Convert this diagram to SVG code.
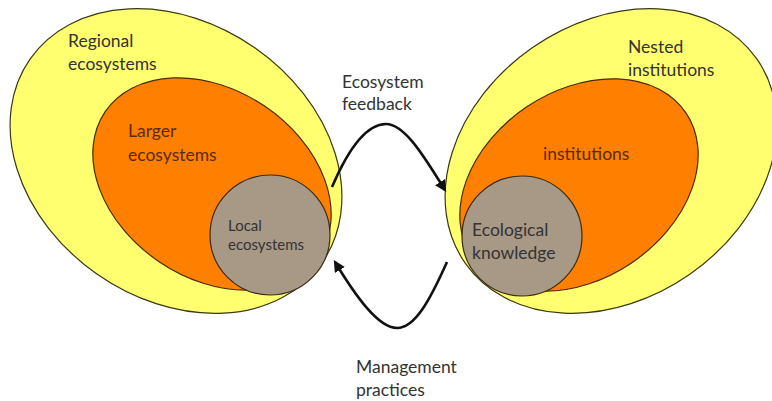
<svg xmlns="http://www.w3.org/2000/svg" width="772" height="401" viewBox="0 0 772 401">
<style>
.yel{fill:#ffff70;stroke:#3a3a10;stroke-width:1.2}
.org{fill:#ff8000;stroke:#4a2a05;stroke-width:1.2}
.brn{fill:#a89886;stroke:#3a2a15;stroke-width:1.2}
.t{font-family:Lato,"Open Sans",sans-serif;font-size:17.5px;fill:#333}
.to{fill:#5a2a05}
.ts{font-size:15px}
.conn{fill:none;stroke:#111;stroke-width:2.6}
</style>
<defs>
<marker id="ah" viewBox="0 0 10 10" refX="8" refY="5" markerWidth="4.5" markerHeight="4.5" orient="auto" markerUnits="strokeWidth">
<path d="M0,0 L10,5 L0,10 z" fill="#111"/>
</marker>
</defs>
<rect width="772" height="401" fill="#fff"/>
<g id="regional-ecosystems">
<ellipse class="yel" cx="176" cy="161" rx="178" ry="138" transform="rotate(35 176 161)"/>
<text class="t" x="68" y="47">Regional</text>
<text class="t" x="68" y="70">ecosystems</text>
</g>
<g id="larger-ecosystems">
<ellipse class="org" cx="212" cy="184" rx="129" ry="94" transform="rotate(34 212 184)"/>
<text class="t to" x="128" y="137">Larger</text>
<text class="t to" x="128" y="161">ecosystems</text>
</g>
<g id="local-ecosystems">
<circle class="brn" cx="270" cy="235" r="60"/>
<text class="t ts" x="228" y="231">Local</text>
<text class="t ts" x="228" y="250">ecosystems</text>
</g>
<g id="nested-institutions">
<ellipse class="yel" cx="611" cy="161" rx="178" ry="138" transform="rotate(-35 611 161)"/>
<text class="t" x="628" y="53">Nested</text>
<text class="t" x="628" y="76">institutions</text>
</g>
<g id="institutions">
<ellipse class="org" cx="579" cy="185" rx="129" ry="94" transform="rotate(-34 579 185)"/>
<text class="t to" x="543" y="160">institutions</text>
</g>
<g id="ecological-knowledge">
<circle class="brn" cx="522" cy="236" r="60"/>
<text class="t" x="472" y="236">Ecological</text>
<text class="t" x="472" y="259">knowledge</text>
</g>
<g id="connectors">
<path class="conn" d="M332,187 C350,145 368,124 386,124 C405,124 425,158 445,190" marker-end="url(#ah)"/>
<path class="conn" d="M447,262 C430,300 415,328 397,328 C378,328 355,295 335,262" marker-end="url(#ah)"/>
<text class="t" x="342" y="88">Ecosystem</text>
<text class="t" x="342" y="110">feedback</text>
<text class="t" x="356" y="373">Management</text>
<text class="t" x="356" y="396">practices</text>
</g>
</svg>
